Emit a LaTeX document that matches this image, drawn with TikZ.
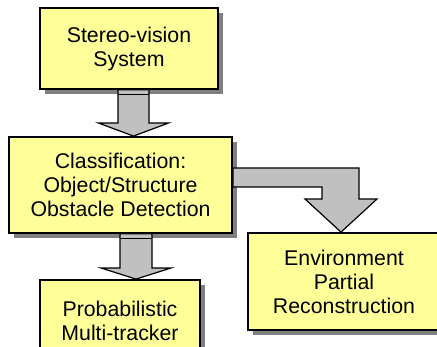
\documentclass[tikz,border=0pt]{standalone}
\usepackage{fontspec}
\setmainfont{Liberation Sans}
\usetikzlibrary{shadows,calc}
\definecolor{boxfill}{HTML}{FFFF99}
\definecolor{arrowfill}{HTML}{C0C0C0}
\definecolor{shadowgray}{HTML}{808080}
\begin{document}
\begin{tikzpicture}[x=1pt,y=-1pt,
  stage/.style={draw=black, line width=1.8pt, fill=boxfill, align=center,
    inner sep=0pt, font=\fontsize{21.3}{24}\selectfont,
    drop shadow={shadow xshift=5pt, shadow yshift=-5pt, fill=shadowgray, opacity=1}},
  flow/.style={draw=black, line width=1.2pt, fill=arrowfill, line join=miter},
  seam/.style={draw=black, line width=1.2pt}]
\useasboundingbox (0,0) rectangle (437,347);

% processing stages
\node[stage, minimum width=178pt, minimum height=81pt] (stereo) at (129,48.5)
  {Stereo-vision\\System};
\node[stage, minimum width=223pt, minimum height=96pt] (classif) at (120.5,185)
  {Classification:\\Object/Structure\\Obstacle Detection};
\node[stage, minimum width=160pt, minimum height=81pt] (tracker) at (120,320.5)
  {Probabilistic\\Multi-tracker};
\node[stage, minimum width=192pt, minimum height=97pt] (envir) at (344,281.5)
  {Environment\\Partial\\Reconstruction};

% block arrow: stereo -> classification
\draw[flow] let \p1=(stereo.south), \p2=(classif.north) in
  (118pt,\y1) -- (149pt,\y1) -- (149pt,-123pt) -- (168.5pt,-123pt)
  -- (133.5pt,\y2) -- (98.5pt,-123pt) -- (118pt,-123pt) -- cycle;
\draw[seam] let \p1=(stereo.south) in (118pt,\y1-5pt) -- (149pt,\y1-5pt);

% block arrow: classification -> tracker
\draw[flow] let \p1=(classif.south), \p2=(tracker.north) in
  (120pt,\y1) -- (152pt,\y1) -- (152pt,-268pt) -- (171pt,-268pt)
  -- (136pt,\y2) -- (101pt,-268pt) -- (120pt,-268pt) -- cycle;
\draw[seam] let \p1=(classif.south) in (120pt,\y1-5pt) -- (152pt,\y1-5pt);

% bent block arrow: classification -> environment
\draw[flow] let \p1=(classif.east), \p2=(envir.north) in
  (\x1,-168pt) -- (359pt,-168pt) -- (359pt,-199pt) -- (377pt,-199pt)
  -- (341pt,\y2) -- (305pt,-199pt) -- (322pt,-199pt) -- (322pt,-187pt)
  -- (\x1,-187pt) -- cycle;
\end{tikzpicture}
\end{document}
